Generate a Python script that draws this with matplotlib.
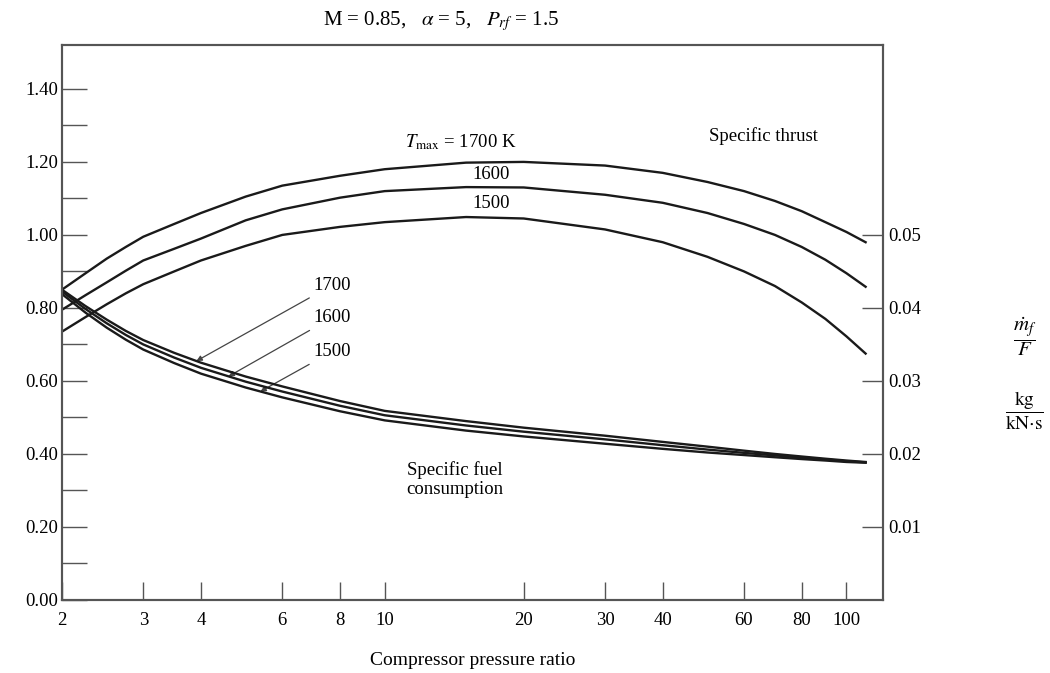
"""
Turbofan performance vs compressor pressure ratio
(specific thrust and specific fuel consumption)
"""

import numpy as np
import matplotlib
matplotlib.use("Agg")
import matplotlib.pyplot as plt
from matplotlib.ticker import FixedLocator, FormatStrFormatter

plt.rcParams["font.family"] = ["Liberation Serif", "DejaVu Serif"]
plt.rcParams["mathtext.fontset"] = "stix"

# ── data ──────────────────────────────────────────────────────────────────
pr = [2, 2.25, 2.5, 2.75, 3, 3.5, 4, 5, 6, 8, 10, 15, 20, 30, 40, 50, 60, 70, 80, 90, 100, 110]

# specific thrust (left axis)
thrust_1700 = [0.850, 0.895, 0.935, 0.967, 0.995, 1.030, 1.060, 1.105, 1.135, 1.162, 1.180,
               1.198, 1.200, 1.190, 1.170, 1.145, 1.120, 1.093, 1.065, 1.035, 1.008, 0.980]
thrust_1600 = [0.795, 0.835, 0.870, 0.902, 0.930, 0.962, 0.990, 1.040, 1.070, 1.102, 1.120,
               1.131, 1.130, 1.110, 1.088, 1.060, 1.030, 1.000, 0.967, 0.932, 0.895, 0.858]
thrust_1500 = [0.735, 0.775, 0.810, 0.840, 0.865, 0.900, 0.930, 0.970, 1.000, 1.022, 1.035,
               1.049, 1.045, 1.015, 0.980, 0.940, 0.900, 0.860, 0.815, 0.770, 0.722, 0.675]

# specific fuel consumption, kg/(kN s)  (right axis)
sfc_1700 = [0.0425, 0.04025, 0.0384, 0.03685, 0.0356, 0.03385, 0.0325, 0.0306, 0.02925, 0.02725,
            0.0259, 0.0245, 0.0236, 0.0225, 0.02165, 0.0210, 0.02045, 0.0200, 0.01965, 0.01935,
            0.0191, 0.0189]
sfc_1600 = [0.04225, 0.03985, 0.0379, 0.0363, 0.0350, 0.0332, 0.0318, 0.0299, 0.02855, 0.0266,
            0.0253, 0.0239, 0.02305, 0.0220, 0.0212, 0.0206, 0.02015, 0.0198, 0.0195, 0.01925,
            0.0190, 0.01885]
sfc_1500 = [0.0419, 0.03935, 0.0373, 0.03565, 0.0343, 0.03245, 0.0310, 0.0291, 0.02775, 0.02585,
            0.0246, 0.0232, 0.0224, 0.0214, 0.0207, 0.0202, 0.01985, 0.01955, 0.0193, 0.0191,
            0.0189, 0.0188]

x_ticks = [2, 3, 4, 6, 8, 10, 20, 30, 40, 60, 80, 100]
x_ticklabels = ["2", "3", "4", "6", "8", "10", "20", "30", "40", "60", "80", "100"]
left_ticks = [0.0, 0.2, 0.4, 0.6, 0.8, 1.0, 1.2, 1.4]
left_minor = [0.1, 0.3, 0.5, 0.7, 0.9, 1.1, 1.3]
right_ticks = [0.01, 0.02, 0.03, 0.04, 0.05]

LINE = "#1a1a1a"
FRAME = "#555555"
FS = 13.5

fig = plt.figure(figsize=(10.5, 6.73), dpi=100)
ax = fig.add_axes([0.059, 0.1085, 0.782, 0.8245])
ax2 = ax.twinx()

# ── curves ────────────────────────────────────────────────────────────────
for ys in (thrust_1700, thrust_1600, thrust_1500):
    ax.plot(pr, ys, color=LINE, lw=1.7)
for ys in (sfc_1700, sfc_1600, sfc_1500):
    ax2.plot(pr, ys, color=LINE, lw=1.7)

ax.set_xscale("log")
ax.set_xlim(2, 120)
ax.set_ylim(0, 1.52)
ax2.set_ylim(0, 1.52 / 20)

ax.xaxis.set_major_locator(FixedLocator(x_ticks))
ax.xaxis.set_minor_locator(FixedLocator([]))
ax.set_xticklabels(x_ticklabels)
ax.yaxis.set_major_locator(FixedLocator(left_ticks))
ax.yaxis.set_minor_locator(FixedLocator(left_minor))
ax.yaxis.set_major_formatter(FormatStrFormatter("%.2f"))
ax2.yaxis.set_major_locator(FixedLocator(right_ticks))
ax2.yaxis.set_major_formatter(FormatStrFormatter("%.2f"))

ax.tick_params(axis="x", direction="in", length=13, width=1, color=FRAME,
               labelsize=FS, pad=9)
ax.tick_params(axis="y", which="both", direction="in", length=18, width=1,
               color=FRAME, labelsize=FS, pad=3, right=False)
ax2.tick_params(axis="y", direction="in", length=15, width=1, color=FRAME,
                labelsize=FS, pad=4)

for a in (ax, ax2):
    for s in a.spines.values():
        s.set_color(FRAME)
        s.set_linewidth(1.5)

# ── text ──────────────────────────────────────────────────────────────────
fig.text(0.42, 0.968, r"M = 0.85,   $\alpha$ = 5,   $P_{rf}$ = 1.5",
         ha="center", va="center", fontsize=15)
ax.set_xlabel("Compressor pressure ratio", fontsize=14, labelpad=16)

ax.text(14.6, 1.255, r"$T_{\mathrm{max}}$ = 1700 K", ha="center", va="center", fontsize=FS)
ax.text(17.0, 1.165, "1600", ha="center", va="center", fontsize=FS)
ax.text(17.0, 1.087, "1500", ha="center", va="center", fontsize=FS)
ax.text(66, 1.27, "Specific thrust", ha="center", va="center", fontsize=FS)
ax.text(14.2, 0.33, "Specific fuel\nconsumption", ha="center", va="center",
        fontsize=FS, linespacing=1.1)

# leader lines from the labels to the fuel curves
for label, ys, x_end, lbl_y in (("1700", sfc_1700, 3.91, 0.862),
                                ("1600", sfc_1600, 4.59, 0.773),
                                ("1500", sfc_1500, 5.38, 0.680)):
    y_end = 20 * np.interp(np.log10(x_end), np.log10(pr), ys)
    ax.annotate(label, xy=(x_end, y_end), xytext=(7.0, lbl_y),
                ha="left", va="center", fontsize=FS,
                arrowprops=dict(arrowstyle="-|>", color="#444444", lw=0.9,
                                mutation_scale=8, shrinkA=2, shrinkB=0))

fig.text(0.976, 0.50, r"$\dfrac{\dot{m}_f}{F}$", ha="center", va="center", fontsize=15)
fig.text(0.976, 0.39, r"$\dfrac{\mathrm{kg}}{\mathrm{kN{\cdot}s}}$", ha="center",
         va="center", fontsize=14)

fig.savefig("out.png", dpi=100)
